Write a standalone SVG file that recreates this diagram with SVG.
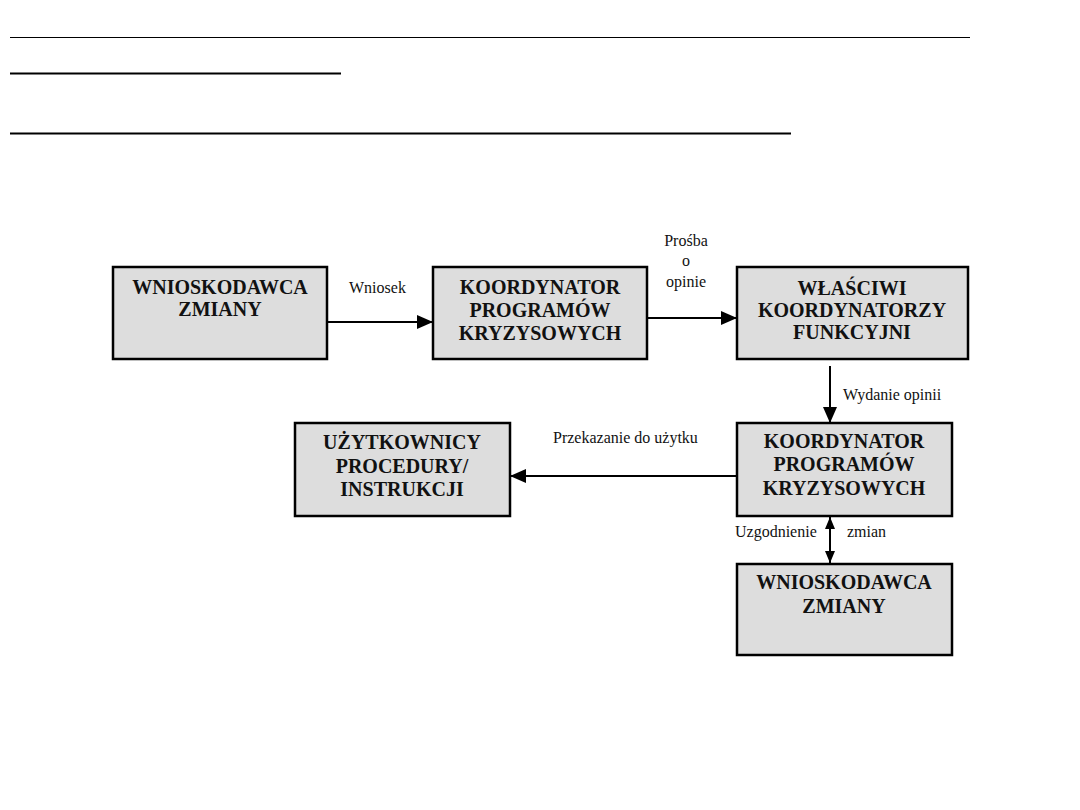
<svg xmlns="http://www.w3.org/2000/svg" width="1080" height="810" viewBox="0 0 1080 810">
<style>
.box{fill:#dddddd;stroke:#000;stroke-width:2.5}
.t{font-family:"Liberation Serif","Times New Roman",serif;font-weight:bold;font-size:20px;fill:#111;text-anchor:middle}
.l{font-family:"Liberation Serif","Times New Roman",serif;font-size:16px;fill:#111}
.c{stroke:#000;stroke-width:2;fill:none}
</style>
<defs>
<marker id="ah" viewBox="0 0 16 14" refX="16" refY="7" markerWidth="16" markerHeight="14" markerUnits="userSpaceOnUse" orient="auto">
<path d="M0,0 L16,7 L0,14 Z" fill="#000"/>
</marker>
<marker id="as" viewBox="0 0 12 10" refX="12" refY="5" markerWidth="12" markerHeight="10" markerUnits="userSpaceOnUse" orient="auto-start-reverse">
<path d="M0,0 L12,5 L0,10 Z" fill="#000"/>
</marker>
</defs>
<rect width="1080" height="810" fill="#fff"/>
<g id="rules">
<line x1="10" y1="37.5" x2="970" y2="37.5" stroke="#000" stroke-width="1"/>
<line x1="10" y1="73.5" x2="341" y2="73.5" stroke="#000" stroke-width="2"/>
<line x1="10" y1="133.5" x2="791" y2="133.5" stroke="#000" stroke-width="2"/>
</g>
<g id="connectors">
<line class="c" x1="327" y1="322" x2="433" y2="322" marker-end="url(#ah)"/>
<line class="c" x1="647" y1="318" x2="737" y2="318" marker-end="url(#ah)"/>
<line class="c" x1="830" y1="366" x2="830" y2="423" marker-end="url(#ah)"/>
<line class="c" x1="737" y1="476" x2="510" y2="476" marker-end="url(#ah)"/>
<line class="c" x1="830" y1="517" x2="830" y2="563" stroke-width="1.5" marker-start="url(#as)" marker-end="url(#as)"/>
<text class="l" x="349" y="293">Wniosek</text>
<text class="l" x="686" y="246" text-anchor="middle">Prośba</text>
<text class="l" x="686" y="266" text-anchor="middle">o</text>
<text class="l" x="686" y="287" text-anchor="middle">opinie</text>
<text class="l" x="843" y="400">Wydanie opinii</text>
<text class="l" x="553" y="443">Przekazanie do użytku</text>
<text class="l" x="735" y="537">Uzgodnienie</text>
<text class="l" x="847" y="537">zmian</text>
</g>
<g id="n1">
<rect class="box" x="113" y="267" width="214" height="92"/>
<text class="t" x="220" y="294">WNIOSKODAWCA</text>
<text class="t" x="220" y="316">ZMIANY</text>
</g>
<g id="n2">
<rect class="box" x="433" y="267" width="214" height="92"/>
<text class="t" x="540" y="294">KOORDYNATOR</text>
<text class="t" x="540" y="317">PROGRAMÓW</text>
<text class="t" x="540" y="340">KRYZYSOWYCH</text>
</g>
<g id="n3">
<rect class="box" x="737" y="267" width="231" height="92"/>
<text class="t" x="852" y="295">WŁAŚCIWI</text>
<text class="t" x="852" y="317">KOORDYNATORZY</text>
<text class="t" x="852" y="339">FUNKCYJNI</text>
</g>
<g id="n4">
<rect class="box" x="295" y="423" width="215" height="93"/>
<text class="t" x="402" y="449">UŻYTKOWNICY</text>
<text class="t" x="402" y="473">PROCEDURY/</text>
<text class="t" x="402" y="496">INSTRUKCJI</text>
</g>
<g id="n5">
<rect class="box" x="737" y="423" width="215" height="93"/>
<text class="t" x="844" y="448">KOORDYNATOR</text>
<text class="t" x="844" y="471">PROGRAMÓW</text>
<text class="t" x="844" y="495">KRYZYSOWYCH</text>
</g>
<g id="n6">
<rect class="box" x="737" y="564" width="215" height="91"/>
<text class="t" x="844" y="589">WNIOSKODAWCA</text>
<text class="t" x="844" y="613">ZMIANY</text>
</g>
</svg>
